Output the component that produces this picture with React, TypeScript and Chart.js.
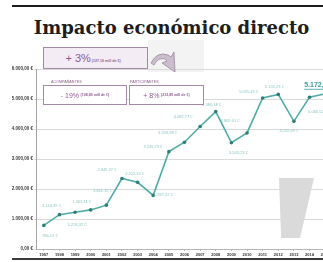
import React, { useEffect, useRef } from 'react';
import { Chart, registerables } from 'chart.js';

Chart.register(...registerables);

// ---- data ----
const years = ['1997', '1998', '1999', '2000', '2001', '2002', '2003', '2004', '2005', '2006', '2007', '2008', '2009', '2010', '2011', '2012', '2013', '2014', '2015'];
const impact = [786.13, 1144.39, 1226.32, 1303.11, 1461.1, 2349.27, 2222.24, 1787.22, 3245.73, 3558.98, 4082.77, 4580.18, 3543.23, 3869.01, 5035.49, 5153.23, 4255.49, 5060.52, 5172.16];
const yMin = 0;
const yMax = 6000;
const yStep = 1000;

const titleText = 'Impacto económico directo';
const totalPct = '+ 3%';
const totalAmount = '(127,16 mill de €)';
const groupNames = ['ACOMPAÑANTES', 'PARTICIPANTES'];
const groupPct = ['- 19%', '+ 8%'];
const groupAmount = ['(108,80 mill de €)', '(213,85 mill de €)'];

// ---- style: label offsets relative to each point (dx, dy) ----
const labelOffsets: [number, number][] = [
  [6, 10], [-8, -9], [2, 13], [-9, -8], [-4, -14], [-15, -9], [-3, -8], [10, 0],
  [-16, -5], [-17, -9], [-17, -10], [-4, -7], [7, 10], [-17, -12], [-14, -6],
  [-4, -8], [-5, 10], [8, 15], [-21, -9],
];

function fmtEUR(v: number): string {
  const fixed = Number(v).toFixed(2);
  const [int, dec] = fixed.split('.');
  const grouped = int.replace(/\B(?=(\d{3})+(?!\d))/g, '.');
  return grouped + ',' + dec + ' €';
}

const pointLabels = {
  id: 'pointLabels',
  afterDatasetsDraw(chart: any) {
    const meta = chart.getDatasetMeta(0);
    const ctx = chart.ctx as CanvasRenderingContext2D;
    ctx.save();
    meta.data.forEach((pt: any, i: number) => {
      const [dx, dy] = labelOffsets[i] || [0, -8];
      const last = i === impact.length - 1;
      const text = fmtEUR(impact[i]);
      const x = pt.x + dx;
      const y = pt.y + dy;
      ctx.textBaseline = 'middle';
      if (last) {
        ctx.font = 'bold 7px "Liberation Sans", Arial, sans-serif';
        ctx.fillStyle = '#3c9f9b';
        ctx.textAlign = 'left';
        ctx.fillText(text, x, y);
        const w = ctx.measureText(text).width;
        ctx.fillRect(x, y + 4, w, 0.8);
      } else {
        ctx.font = '4px "Liberation Sans", Arial, sans-serif';
        ctx.fillStyle = '#8ac6c2';
        ctx.textAlign = 'center';
        ctx.fillText(text, x, y);
      }
    });
    ctx.restore();
  },
};

const purple = '#8e5b90';
const boxBorder = '#a587a8';
const sans = '"Liberation Sans", Arial, sans-serif';

export default function App() {
  const canvasRef = useRef<HTMLCanvasElement | null>(null);

  useEffect(() => {
    const canvas = canvasRef.current;
    if (!canvas) return;
    const chart = new Chart(canvas, {
      type: 'line',
      data: {
        labels: years,
        datasets: [
          {
            data: impact,
            borderColor: '#4eaca6',
            borderWidth: 1.6,
            pointRadius: 1.8,
            pointBackgroundColor: '#2f7d79',
            pointBorderWidth: 0,
            tension: 0,
          },
        ],
      },
      options: {
        animation: false,
        responsive: false,
        maintainAspectRatio: false,
        devicePixelRatio: 1,
        layout: { padding: { top: 69, left: 0, right: 0, bottom: 0 } },
        plugins: { legend: { display: false }, tooltip: { enabled: false }, title: { display: false } },
        scales: {
          x: {
            type: 'category',
            offset: true,
            grid: { display: true, drawOnChartArea: false, tickLength: 2, color: '#b5b5b5' },
            border: { color: '#b5b5b5' },
            ticks: {
              font: { size: 4, weight: 'bold', family: 'Liberation Sans' },
              color: '#333',
              padding: 1,
              maxRotation: 0,
              autoSkip: false,
            },
            afterFit: (s: any) => {
              s.height = 13;
            },
          },
          y: {
            min: yMin,
            max: yMax,
            ticks: {
              stepSize: yStep,
              callback: (v: any) => fmtEUR(Number(v)),
              font: { size: 4.5, weight: 'bold', family: 'Liberation Sans' },
              color: '#3a3a3a',
              padding: 1,
            },
            grid: { color: '#dadada', tickLength: 2 },
            border: { color: '#a5a5a5' },
            afterFit: (s: any) => {
              s.width = 36;
            },
          },
        },
      },
      plugins: [pointLabels],
    });
    return () => chart.destroy();
  }, []);

  return (
    <div
      style={{
        position: 'fixed',
        left: 0,
        top: 0,
        width: 323,
        height: 262,
        overflow: 'hidden',
        background: '#fff',
      }}
    >
      {/* rules */}
      <div style={{ position: 'absolute', left: 12, top: 5, width: 320, height: 2, background: '#1c1c1c' }} />
      <div style={{ position: 'absolute', left: 12, top: 258, width: 320, height: 2, background: '#3a3a3a' }} />

      {/* title */}
      <div
        style={{
          position: 'absolute',
          left: 0,
          top: 18,
          width: 343,
          textAlign: 'center',
          font: 'bold 18px "DejaVu Serif", "Liberation Serif", serif',
          lineHeight: '20px',
          color: '#1e1e1e',
          whiteSpace: 'nowrap',
        }}
      >
        {titleText}
      </div>

      {/* watermark shape */}
      <div
        style={{
          position: 'absolute',
          left: 279,
          top: 178,
          width: 35,
          height: 60,
          background: '#dadada',
          clipPath: 'polygon(0 0, 100% 0, 60% 100%, 6% 100%)',
        }}
      />

      {/* light panel behind total box */}
      <div style={{ position: 'absolute', left: 148, top: 40, width: 56, height: 32, background: '#f3f3f3' }} />

      <canvas
        ref={canvasRef}
        width={337}
        height={262}
        style={{ position: 'absolute', left: 0, top: 0, width: 337, height: 262 }}
      />

      {/* total box */}
      <div
        style={{
          position: 'absolute',
          left: 43,
          top: 47,
          width: 103,
          height: 20,
          background: '#f4ecf4',
          border: `1.5px solid ${boxBorder}`,
          display: 'flex',
          alignItems: 'center',
          justifyContent: 'center',
          color: purple,
          fontFamily: sans,
          whiteSpace: 'nowrap',
        }}
      >
        <span style={{ fontSize: 10, paddingRight: 5 }}>
          <span style={{ fontSize: 11 }}>{totalPct}</span>
          <span style={{ fontSize: 3.6, fontWeight: 'bold', marginLeft: 1 }}>{totalAmount}</span>
        </span>
      </div>

      {/* curved arrow */}
      <svg style={{ position: 'absolute', left: 148, top: 46, width: 34, height: 30 }} viewBox="0 0 34 30">
        <path d="M3,17 Q9,5 20,9 L23,11 L26,6 L27,26 L14,17 L19,15 L17,13 Q10,11 6,19 Z" fill="#cbbcce" stroke="#9d87a1" strokeWidth="0.8" />
      </svg>

      {/* group labels and boxes */}
      {[0, 1].map((g) => {
        const left = g === 0 ? 43 : 129;
        const width = g === 0 ? 82 : 73;
        return (
          <React.Fragment key={g}>
            <div
              style={{
                position: 'absolute',
                left: left + (g === 0 ? 8 : 1),
                top: 80,
                fontFamily: sans,
                fontSize: 3.7,
                color: purple,
                whiteSpace: 'nowrap',
                lineHeight: '4px',
              }}
            >
              {groupNames[g]}
            </div>
            <div
              style={{
                position: 'absolute',
                left,
                top: 85,
                width,
                height: 18,
                background: '#fff',
                border: `1px solid ${boxBorder}`,
                display: 'flex',
                alignItems: 'center',
                justifyContent: 'center',
                color: purple,
                fontFamily: sans,
                whiteSpace: 'nowrap',
              }}
            >
              <span style={{ fontSize: 7 }}>{groupPct[g]}</span>
              <span style={{ fontSize: 3.6, fontWeight: 'bold', marginLeft: 1.5 }}>{groupAmount[g]}</span>
            </div>
          </React.Fragment>
        );
      })}
    </div>
  );
}
